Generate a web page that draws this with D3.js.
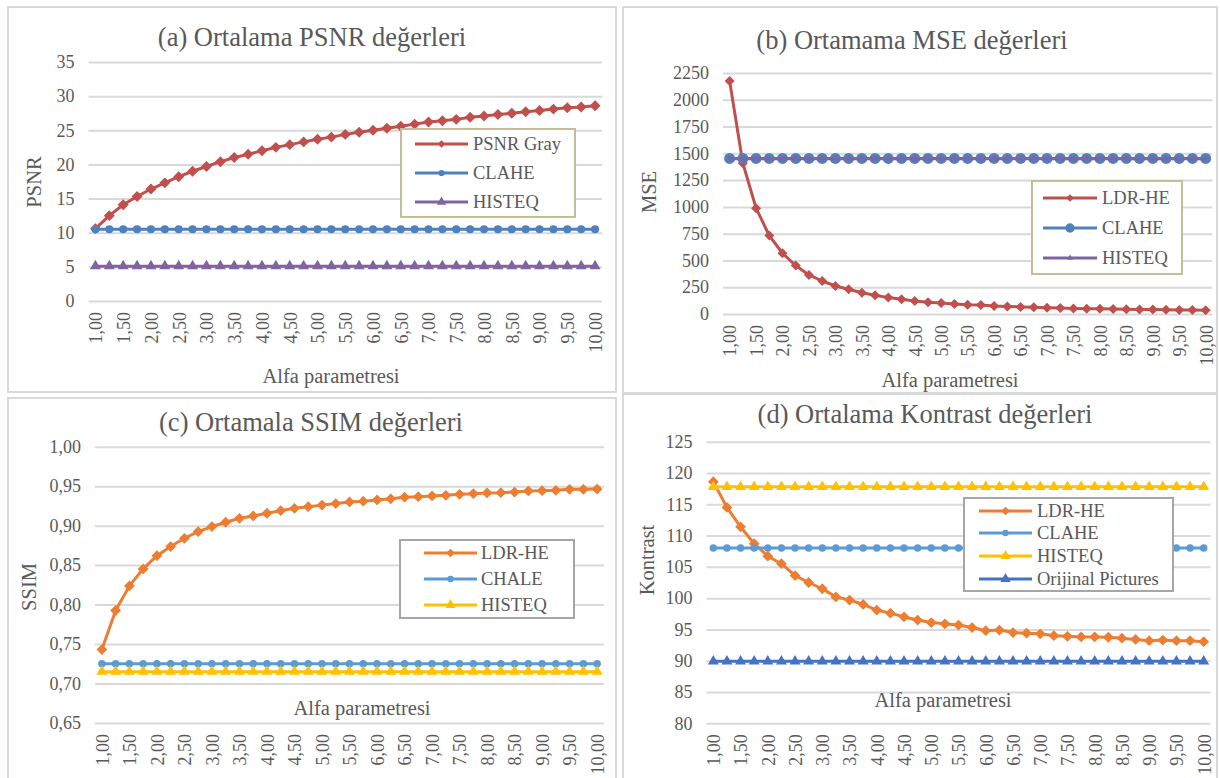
<!DOCTYPE html>
<html>
<head>
<meta charset="utf-8">
<script src="https://cdn.jsdelivr.net/npm/d3@7"></script>
<style>
  html, body { margin: 0; padding: 0; background: #fff; }
  svg { display: block; }
</style>
</head>
<body>
<div id="chart"></div>
<script>
// x categories (alfa parametresi)
const alfa = [1.00, 1.25, 1.50, 1.75, 2.00, 2.25, 2.50, 2.75, 3.00, 3.25, 3.50, 3.75, 4.00, 4.25, 4.50, 4.75, 5.00, 5.25, 5.50,
  5.75, 6.00, 6.25, 6.50, 6.75, 7.00, 7.25, 7.50, 7.75, 8.00, 8.25, 8.50, 8.75, 9.00, 9.25, 9.50, 9.75, 10.00];
// only every other category gets a label
const alfaLabels = ["1,00", "1,50", "2,00", "2,50", "3,00", "3,50", "4,00", "4,50", "5,00", "5,50", "6,00", "6,50",
  "7,00", "7,50", "8,00", "8,50", "9,00", "9,50", "10,00"];

// (a) PSNR
const psnrGray = [10.6, 12.5, 14.1, 15.3, 16.4, 17.3, 18.2, 19.0, 19.7, 20.4, 21.0, 21.5, 22.0, 22.5, 22.9, 23.3, 23.7, 24.0, 24.4,
  24.7, 25.0, 25.3, 25.6, 25.9, 26.2, 26.4, 26.6, 26.9, 27.1, 27.3, 27.5, 27.7, 27.9, 28.1, 28.3, 28.4, 28.6];
const psnrClahe = [10.5, 10.5, 10.5, 10.5, 10.5, 10.5, 10.5, 10.5, 10.5, 10.5, 10.5, 10.5, 10.5, 10.5, 10.5, 10.5, 10.5, 10.5, 10.5,
  10.5, 10.5, 10.5, 10.5, 10.5, 10.5, 10.5, 10.5, 10.5, 10.5, 10.5, 10.5, 10.5, 10.5, 10.5, 10.5, 10.5, 10.5];
const psnrHisteq = [5.1, 5.1, 5.1, 5.1, 5.1, 5.1, 5.1, 5.1, 5.1, 5.1, 5.1, 5.1, 5.1, 5.1, 5.1, 5.1, 5.1, 5.1, 5.1,
  5.1, 5.1, 5.1, 5.1, 5.1, 5.1, 5.1, 5.1, 5.1, 5.1, 5.1, 5.1, 5.1, 5.1, 5.1, 5.1, 5.1, 5.1];
const psnrTicks = [0, 5, 10, 15, 20, 25, 30, 35];

// (b) MSE
const mseLdr = [2175, 1408, 988, 732, 567, 452, 365, 308, 262, 231, 199, 175, 153, 137, 122, 109, 103, 93, 87,
  84, 75, 70, 66, 62, 58, 55, 52, 50, 48, 46, 44, 42, 41, 40, 38, 37, 36];
const mseClahe = [1452, 1452, 1452, 1452, 1452, 1452, 1452, 1452, 1452, 1452, 1452, 1452, 1452, 1452, 1452, 1452, 1452, 1452, 1452,
  1452, 1452, 1452, 1452, 1452, 1452, 1452, 1452, 1452, 1452, 1452, 1452, 1452, 1452, 1452, 1452, 1452, 1452];
const mseHisteq = [1450, 1450, 1450, 1450, 1450, 1450, 1450, 1450, 1450, 1450, 1450, 1450, 1450, 1450, 1450, 1450, 1450, 1450, 1450,
  1450, 1450, 1450, 1450, 1450, 1450, 1450, 1450, 1450, 1450, 1450, 1450, 1450, 1450, 1450, 1450, 1450, 1450];
const mseTicks = [0, 250, 500, 750, 1000, 1250, 1500, 1750, 2000, 2250];

// (c) SSIM
const ssimLdr = [0.743, 0.7925, 0.8237, 0.8452, 0.862, 0.8735, 0.884, 0.8925, 0.8988, 0.9043, 0.9093, 0.9123, 0.9157, 0.919,
  0.922, 0.924, 0.926, 0.928, 0.930, 0.931, 0.9325, 0.934, 0.936, 0.9367, 0.9376, 0.9384, 0.9397, 0.9405, 0.9414, 0.9418,
  0.9426, 0.9439, 0.9443, 0.9447, 0.946, 0.946, 0.9464];
const ssimChale = [0.725, 0.725, 0.725, 0.725, 0.725, 0.725, 0.725, 0.725, 0.725, 0.725, 0.725, 0.725, 0.725, 0.725, 0.725,
  0.725, 0.725, 0.725, 0.725, 0.725, 0.725, 0.725, 0.725, 0.725, 0.725, 0.725, 0.725, 0.725, 0.725, 0.725, 0.725, 0.725,
  0.725, 0.725, 0.725, 0.725, 0.725];
const ssimHisteq = [0.715, 0.715, 0.715, 0.715, 0.715, 0.715, 0.715, 0.715, 0.715, 0.715, 0.715, 0.715, 0.715, 0.715, 0.715,
  0.715, 0.715, 0.715, 0.715, 0.715, 0.715, 0.715, 0.715, 0.715, 0.715, 0.715, 0.715, 0.715, 0.715, 0.715, 0.715, 0.715,
  0.715, 0.715, 0.715, 0.715, 0.715];
const ssimTicks = [0.65, 0.70, 0.75, 0.80, 0.85, 0.90, 0.95, 1.00];

// (d) Kontrast
const kontrastLdr = [118.6, 114.5, 111.4, 108.7, 106.7, 105.5, 103.6, 102.5, 101.5, 100.2, 99.7, 99.0, 98.1, 97.6, 97.0, 96.5,
  96.1, 95.9, 95.7, 95.3, 94.8, 94.9, 94.5, 94.4, 94.3, 94.0, 93.9, 93.8, 93.8, 93.75, 93.6, 93.4, 93.2, 93.3, 93.2, 93.2, 93.05];
const kontrastClahe = [108, 108, 108, 108, 108, 108, 108, 108, 108, 108, 108, 108, 108, 108, 108, 108, 108, 108, 108,
  108, 108, 108, 108, 108, 108, 108, 108, 108, 108, 108, 108, 108, 108, 108, 108, 108, 108];
const kontrastHisteq = [117.8, 117.8, 117.8, 117.8, 117.8, 117.8, 117.8, 117.8, 117.8, 117.8, 117.8, 117.8, 117.8, 117.8,
  117.8, 117.8, 117.8, 117.8, 117.8, 117.8, 117.8, 117.8, 117.8, 117.8, 117.8, 117.8, 117.8, 117.8, 117.8, 117.8, 117.8,
  117.8, 117.8, 117.8, 117.8, 117.8, 117.8];
const kontrastOrijinal = [89.9, 89.9, 89.9, 89.9, 89.9, 89.9, 89.9, 89.9, 89.9, 89.9, 89.9, 89.9, 89.9, 89.9, 89.9, 89.9,
  89.9, 89.9, 89.9, 89.9, 89.9, 89.9, 89.9, 89.9, 89.9, 89.9, 89.9, 89.9, 89.9, 89.9, 89.9, 89.9, 89.9, 89.9, 89.9, 89.9, 89.9];
const kontrastTicks = [80, 85, 90, 95, 100, 105, 110, 115, 120, 125];

const width = 1220,
  height = 778;
const textColor = "#595959",
  gridColor = "#d9d9d9",
  serif = "'Liberation Serif', 'Times New Roman', serif";

const svg = d3
  .select("#chart")
  .append("svg")
  .attr("width", width)
  .attr("height", height)
  .style("font-family", serif);

const comma = (d) => d.toFixed(2).replace(".", ",");

// marker drawing helper
function marker(sel, type, size, color) {
  if (type === "diamond") {
    sel.append("path")
      .attr("d", d3.symbol(d3.symbolSquare, size)())
      .attr("transform", (d) => d.t + " rotate(45)")
      .attr("fill", color);
  } else if (type === "circle") {
    sel.append("path").attr("d", d3.symbol(d3.symbolCircle, size)()).attr("transform", (d) => d.t).attr("fill", color);
  } else {
    sel.append("path").attr("d", d3.symbol(d3.symbolTriangle, size)()).attr("transform", (d) => d.t).attr("fill", color);
  }
}

function panel(cfg) {
  const g = svg.append("g");

  // chart area border
  g.append("rect")
    .attr("x", cfg.box[0]).attr("y", cfg.box[1])
    .attr("width", cfg.box[2] - cfg.box[0]).attr("height", cfg.box[3] - cfg.box[1])
    .attr("fill", "#fff").attr("stroke", gridColor).attr("stroke-width", 2);

  const x = d3.scalePoint().domain(alfa).range([cfg.x0, cfg.x1]).padding(0.5);
  const y = d3.scaleLinear().domain(cfg.domain).range([cfg.yb, cfg.yt]);

  // y axis + gridlines
  const ya = g.append("g")
    .attr("transform", `translate(${cfg.x0},0)`)
    .call(d3.axisLeft(y).tickValues(cfg.ticks).tickSize(-(cfg.x1 - cfg.x0)).tickPadding(14).tickFormat(cfg.fmt));
  ya.select(".domain").remove();
  ya.selectAll("line").attr("stroke", gridColor).attr("stroke-width", 2);
  ya.selectAll("text")
    .attr("fill", textColor)
    .style("font-family", serif)
    .style("font-size", "18px");

  // x axis labels, rotated
  const xa = g.append("g")
    .attr("transform", `translate(0,${cfg.yb})`)
    .call(d3.axisBottom(x).tickValues(alfa.filter((d, i) => i % 2 === 0)).tickSize(0)
      .tickFormat((d, i) => alfaLabels[i]));
  xa.select(".domain").remove();
  xa.selectAll("text")
    .attr("transform", "rotate(-90)")
    .attr("text-anchor", "end")
    .attr("x", -11).attr("y", 0).attr("dy", "0.35em")
    .attr("fill", textColor)
    .style("font-family", serif)
    .style("font-size", "18px");

  // titles
  g.append("text").attr("x", cfg.title[0]).attr("y", cfg.title[1]).attr("text-anchor", "middle")
    .attr("font-size", 26.5).attr("fill", textColor).text(cfg.titleText);
  g.append("text").attr("transform", `translate(${cfg.ytitle[0]},${cfg.ytitle[1]}) rotate(-90)`)
    .attr("text-anchor", "middle").attr("dy", "0.35em")
    .attr("font-size", 20.5).attr("fill", textColor).text(cfg.ytitleText);
  g.append("text").attr("x", cfg.xtitle[0]).attr("y", cfg.xtitle[1]).attr("text-anchor", "middle")
    .attr("font-size", 20.5).attr("fill", textColor).text("Alfa parametresi");

  // series
  const line = d3.line().x((d, i) => x(alfa[i])).y((d) => y(d));
  cfg.series.forEach((s) => {
    g.append("path").datum(s.values).attr("d", line)
      .attr("fill", "none").attr("stroke", s.color).attr("stroke-width", 3).attr("stroke-linejoin", "round");
    const pts = g.append("g").selectAll("g")
      .data(s.values.map((v, i) => ({ t: `translate(${x(alfa[i])},${y(v)})` })))
      .join("g");
    marker(pts, s.marker, s.size, s.color);
  });

  // legend
  const L = cfg.legend;
  const lg = g.append("g");
  lg.append("rect").attr("x", L.x0).attr("y", L.y0).attr("width", L.x1 - L.x0).attr("height", L.y1 - L.y0)
    .attr("fill", "#fff").attr("stroke", L.border).attr("stroke-width", 2);
  cfg.series.forEach((s, i) => {
    const ly = L.rows[i];
    lg.append("line").attr("x1", L.lx0).attr("x2", L.lx1).attr("y1", ly).attr("y2", ly)
      .attr("stroke", s.color).attr("stroke-width", 3);
    const m = lg.append("g").data([{ t: `translate(${(L.lx0 + L.lx1) / 2},${ly})` }]);
    marker(m, s.marker, s.lsize, s.color);
    lg.append("text").attr("x", L.tx).attr("y", ly).attr("dy", "0.35em")
      .attr("font-size", 18.5).attr("fill", textColor).text(s.name);
  });
}

panel({
  box: [8, 7, 616, 392],
  x0: 88.5, x1: 602, yb: 301, yt: 62, domain: [0, 35], ticks: psnrTicks, fmt: d3.format("d"),
  title: [312, 46], titleText: "(a) Ortalama PSNR değerleri",
  ytitle: [34, 182], ytitleText: "PSNR",
  xtitle: [331, 383],
  series: [
    { name: "PSNR Gray", values: psnrGray, color: "#c0504d", marker: "diamond", size: 60, lsize: 30 },
    { name: "CLAHE", values: psnrClahe, color: "#4f81bd", marker: "circle", size: 52, lsize: 30 },
    { name: "HISTEQ", values: psnrHisteq, color: "#8064a2", marker: "triangle", size: 52, lsize: 38 }
  ],
  legend: { x0: 401, x1: 575, y0: 129, y1: 217, border: "#c4bd97", rows: [144, 173, 202], lx0: 415, lx1: 468, tx: 473 }
});

panel({
  box: [623, 7, 1217, 393],
  x0: 723, x1: 1212.3, yb: 314, yt: 73, domain: [0, 2250], ticks: mseTicks, fmt: d3.format("d"),
  title: [912, 49], titleText: "(b) Ortamama MSE değerleri",
  ytitle: [649, 192], ytitleText: "MSE",
  xtitle: [950, 387],
  series: [
    { name: "LDR-HE", values: mseLdr, color: "#c0504d", marker: "diamond", size: 50, lsize: 28 },
    { name: "CLAHE", values: mseClahe, color: "#4f81bd", marker: "circle", size: 95, lsize: 70 },
    { name: "HISTEQ", values: mseHisteq, color: "#8064a2", marker: "triangle", size: 16, lsize: 16 }
  ],
  legend: { x0: 1032, x1: 1182, y0: 181, y1: 274, border: "#c4bd97", rows: [198, 228, 258], lx0: 1043, lx1: 1097, tx: 1102 }
});

panel({
  box: [8, 398, 616, 790],
  x0: 95, x1: 604, yb: 723, yt: 446.7, domain: [0.65, 1.0], ticks: ssimTicks, fmt: comma,
  title: [311, 431], titleText: "(c) Ortamala SSIM değerleri",
  ytitle: [29, 587], ytitleText: "SSIM",
  xtitle: [362, 715],
  series: [
    { name: "LDR-HE", values: ssimLdr, color: "#ed7d31", marker: "diamond", size: 58, lsize: 38 },
    { name: "CHALE", values: ssimChale, color: "#5b9bd5", marker: "circle", size: 44, lsize: 32 },
    { name: "HISTEQ", values: ssimHisteq, color: "#ffc000", marker: "triangle", size: 52, lsize: 46 }
  ],
  legend: { x0: 400, x1: 574, y0: 540, y1: 618, border: "#a6a6a6", rows: [553, 579, 605], lx0: 424, lx1: 477, tx: 481 }
});

panel({
  box: [623, 394, 1217, 790],
  x0: 706.5, x1: 1210.5, yb: 723.3, yt: 441.7, domain: [80, 125], ticks: kontrastTicks, fmt: d3.format("d"),
  title: [925, 423], titleText: "(d) Ortalama Kontrast değerleri",
  ytitle: [647, 560], ytitleText: "Kontrast",
  xtitle: [943, 707],
  series: [
    { name: "LDR-HE", values: kontrastLdr, color: "#ed7d31", marker: "diamond", size: 58, lsize: 38 },
    { name: "CLAHE", values: kontrastClahe, color: "#5b9bd5", marker: "circle", size: 44, lsize: 32 },
    { name: "HISTEQ", values: kontrastHisteq, color: "#ffc000", marker: "triangle", size: 52, lsize: 46 },
    { name: "Orijinal Pictures", values: kontrastOrijinal, color: "#4472c4", marker: "triangle", size: 52, lsize: 46 }
  ],
  legend: { x0: 964, x1: 1173, y0: 498, y1: 591, border: "#a6a6a6", rows: [511, 533, 556, 579], lx0: 979, lx1: 1032, tx: 1037 }
});
</script>
</body>
</html>
